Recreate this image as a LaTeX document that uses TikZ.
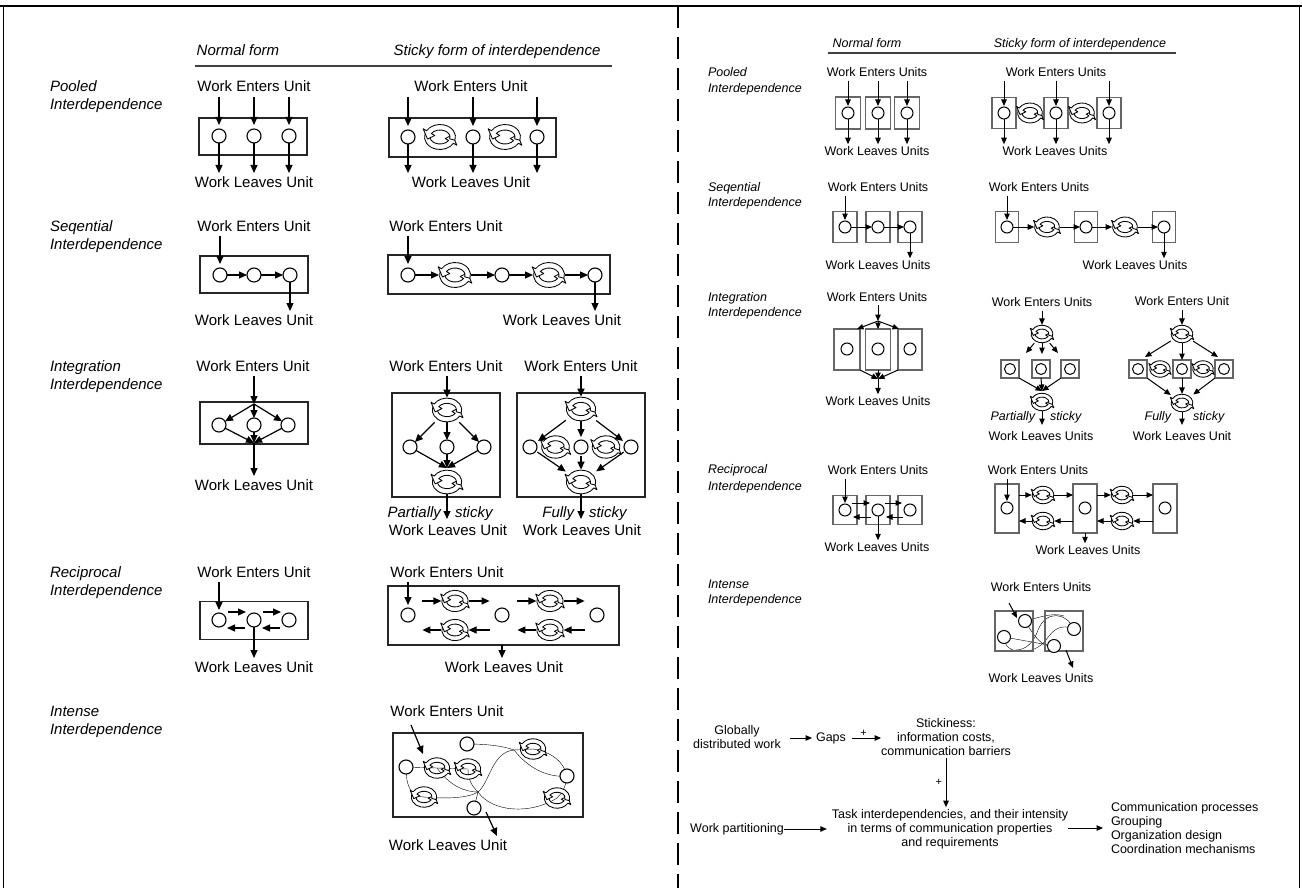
\documentclass[tikz,border=0pt]{standalone}
\usepackage{fontspec}
\setmainfont{Liberation Sans}
\usetikzlibrary{arrows.meta,backgrounds}

% circulating "sticky" symbol: two hollow curved arrows
\tikzset{
  stick/.pic={
    \foreach \r in {0,180}{
      \filldraw[fill=white, draw=black, line width=0.85pt, line join=round, rotate=\r]
        (195:15.5 and 12.5) arc[start angle=195, end angle=30, x radius=15.5, y radius=12.5]
        -- (30:19.5 and 16.5) -- (-12:12.75 and 9.75) -- (30:6 and 3) -- (30:10 and 7)
        arc[start angle=30, end angle=195, x radius=10, y radius=7]
        -- cycle;
    }
  }
}
% named anchor node carrying a sticky symbol: name, x, y, scale
\newcommand\stickyat[4]{%
  \node[minimum width=#4*32pt, minimum height=#4*26pt] (#1) at (#2,#3) {};
  \pic[scale=#4] at (#1) {stick};}

\begin{document}
\begin{tikzpicture}[x=1pt, y=-1pt,
  every node/.style={inner sep=0pt, outer sep=0pt},
  lt/.style={font=\fontsize{15}{17}\selectfont, text height=11pt, text depth=3pt},
  lit/.style={font=\fontsize{15}{17}\selectfont\itshape, text height=11pt, text depth=3pt},
  lrow/.style={lit, anchor=west},
  rt/.style={font=\fontsize{12.5}{14}\selectfont, text height=9pt, text depth=2.5pt},
  rit/.style={font=\fontsize{12.5}{14}\selectfont\itshape, text height=9pt, text depth=2.5pt},
  rrow/.style={rit, anchor=west},
  flow/.style={font=\fontsize{12.5}{14}\selectfont, align=center},
  la/.style={line width=1.2pt, -{Triangle[length=8pt,width=7pt]}},
  ra/.style={line width=1pt, -{Triangle[length=6.5pt,width=5.5pt]}},
  lc/.style={circle, draw, line width=1.1pt, minimum size=14pt, fill=white},
  rc/.style={circle, draw, line width=1pt, minimum size=12pt, fill=white},
  lbox/.style={draw=black!85, line width=1.3pt},
  rbox/.style={draw=black!60, line width=1.6pt},
  lline/.style={line width=1.2pt},
  rline/.style={line width=1pt},
]

\begin{scope}[on background layer]
  \fill[white] (0,0) rectangle (1302,888);
\end{scope}
\useasboundingbox (0,0) rectangle (1302,888);

% ---------- page frame and divider ----------
\draw[line width=2.5pt] (0,6) -- (1302,6);
\draw[line width=1pt] (3,6) -- (3,888);
\draw[line width=1pt] (1299,6) -- (1299,888);
\draw[line width=2.6pt, dash pattern=on 22pt off 9pt] (678,6) -- (678,888);

% ================= LEFT PANEL =================
\node[lit] (lhN) at (238,52) {Normal form};
\node[lit] (lhS) at (497,52) {Sticky form of interdependence};
\coordinate (lr1) at (195,66); \coordinate (lr2) at (612,66);
\draw[line width=1.3pt, black!75] (lr1) -- (lr2);

\node[lrow] (lrPa) at (50,88) {Pooled};
\node[lrow] (lrPb) at (50,106) {Interdependence};
\node[lrow] (lrSa) at (50,227) {Seqential};
\node[lrow] (lrSb) at (50,245) {Interdependence};
\node[lrow] (lrIa) at (50,367) {Integration};
\node[lrow] (lrIb) at (50,385) {Interdependence};
\node[lrow] (lrRa) at (50,573) {Reciprocal};
\node[lrow] (lrRb) at (50,591) {Interdependence};
\node[lrow] (lrXa) at (50,712) {Intense};
\node[lrow] (lrXb) at (50,730) {Interdependence};

% --- pooled, normal ---
\node[lt] (lpn-in) at (254,88) {Work Enters Unit};
\node[lbox, minimum width=108, minimum height=37] (lpn-box) at (253,136.5) {};
\node[lc] (lpn1) at (219,136) {};
\node[lc] (lpn2) at (254,136) {};
\node[lc] (lpn3) at (289,136) {};
\node[lt] (lpn-out) at (254,183) {Work Leaves Unit};
\foreach \c in {lpn1,lpn2,lpn3}{
  \draw[la, shorten <=2pt, shorten >=4pt] (lpn-in.south -| \c) -- (\c);
  \draw[la, shorten >=3pt] (\c) -- (\c |- lpn-out.north);
}

% --- pooled, sticky ---
\node[lt] (lps-in) at (471,88) {Work Enters Unit};
\node[lbox, minimum width=167, minimum height=39] (lps-box) at (472.5,137.5) {};
\node[lc] (lps1) at (408,137) {};
\node[lc] (lps2) at (473,137) {};
\node[lc] (lps3) at (537,137) {};
\stickyat{lpsA}{440}{137}{1}
\stickyat{lpsB}{505}{137}{1}
\node[lt] (lps-out) at (471,183) {Work Leaves Unit};
\foreach \c in {lps1,lps2,lps3}{
  \draw[la, shorten <=2pt, shorten >=4pt] (lps-in.south -| \c) -- (\c);
  \draw[la, shorten >=3pt] (\c) -- (\c |- lps-out.north);
}

% --- sequential, normal ---
\node[lt] (lsn-in) at (254,227) {Work Enters Unit};
\node[lbox, minimum width=108, minimum height=37] (lsn-box) at (254,274.5) {};
\node[lc] (lsn1) at (220,275) {};
\node[lc] (lsn2) at (254,275) {};
\node[lc] (lsn3) at (290,275) {};
\node[lt] (lsn-out) at (254,321) {Work Leaves Unit};
\draw[la, shorten <=2pt, shorten >=4pt] (lsn-in.south -| lsn1) -- (lsn1);
\draw[la] (lsn1) -- (lsn2);
\draw[la] (lsn2) -- (lsn3);
\draw[la, shorten >=3pt] (lsn3) -- (lsn3 |- lsn-out.north);

% --- sequential, sticky ---
\node[lt] (lss-in) at (446,227) {Work Enters Unit};
\node[lbox, minimum width=222, minimum height=39] (lss-box) at (499,274.5) {};
\node[lc] (lss1) at (408,275) {};
\node[lc] (lss2) at (502,275) {};
\node[lc] (lss3) at (595,275) {};
\stickyat{lssA}{455}{275}{1}
\stickyat{lssB}{549}{275}{1}
\node[lt] (lss-out) at (562,321) {Work Leaves Unit};
\draw[la, shorten <=2pt, shorten >=4pt] (lss-in.south -| lss1) -- (lss1);
\draw[la] (lss1) -- (lssA);
\draw[la] (lssA) -- (lss2);
\draw[la] (lss2) -- (lssB);
\draw[la] (lssB) -- (lss3);
\draw[la, shorten >=3pt] (lss3) -- (lss3 |- lss-out.north);

% --- integration, normal ---
\node[lt] (lin-in) at (253,367) {Work Enters Unit};
\node[lbox, minimum width=108, minimum height=42] (lin-box) at (254,423) {};
\node[lc] (lin1) at (219,425) {};
\node[lc] (lin2) at (254,425) {};
\node[lc] (lin3) at (288,425) {};
\coordinate (linj) at (254,404);
\coordinate (linc) at (254,443);
\node[lt] (lin-out) at (254,486) {Work Leaves Unit};
\draw[la, shorten <=2pt] (lin-in.south -| linj) -- (linj);
\foreach \c in {lin1,lin2,lin3}{
  \draw[la] (linj) -- (\c);
  \draw[la] (\c) -- (linc);
}
\draw[la, shorten >=3pt] (linc) -- (linc |- lin-out.north);

% --- integration, partially sticky ---
\node[lt] (lip-in) at (446,367) {Work Enters Unit};
\node[lbox, minimum width=108, minimum height=104] (lip-box) at (446,445) {};
\stickyat{lipT}{447}{410}{0.95}
\node[lc] (lip1) at (410,447) {};
\node[lc] (lip2) at (447,447) {};
\node[lc] (lip3) at (484,447) {};
\coordinate (lipc) at (447,468);
\stickyat{lipB}{447}{482}{0.95}
\coordinate (lipx) at (447,519);
\node[lit, anchor=east] (lipP) at (441,513) {Partially};
\node[lit, anchor=west] (lipS) at (455,513) {sticky};
\node[lt] (lip-out) at (448,531) {Work Leaves Unit};
\draw[la, shorten <=2pt] (lip-in.south -| lipT) -- (lipT);
\foreach \c in {lip1,lip2,lip3}{
  \draw[la] (lipT) -- (\c);
  \draw[la] (\c) -- (lipc);
}
\draw[la] (lipB) -- (lipx);

% --- integration, fully sticky ---
\node[lt] (lif-in) at (581,367) {Work Enters Unit};
\node[lbox, minimum width=128, minimum height=104] (lif-box) at (581,445) {};
\stickyat{lifT}{581}{409}{0.95}
\node[lc] (lif1) at (530,447) {};
\node[lc] (lif2) at (581,447) {};
\node[lc] (lif3) at (631,447) {};
\stickyat{lifA}{555.5}{447}{0.9}
\stickyat{lifB}{606}{447}{0.9}
\stickyat{lifD}{581}{482}{0.95}
\coordinate (lifx) at (581,519);
\node[lit, anchor=east] (lifP) at (574,513) {Fully};
\node[lit, anchor=west] (lifS) at (589,513) {sticky};
\node[lt] (lif-out) at (582,531) {Work Leaves Unit};
\draw[la, shorten <=2pt] (lif-in.south -| lifT) -- (lifT);
\foreach \c in {lif1,lif2,lif3}{
  \draw[la, shorten >=3pt] (lifT) -- (\c);
  \draw[la, shorten <=2pt] (\c) -- (lifD);
}
\draw[la] (lifD) -- (lifx);

% --- reciprocal, normal ---
\node[lt] (lrn-in) at (254,573) {Work Enters Unit};
\node[lbox, minimum width=108, minimum height=38] (lrn-box) at (254,620.5) {};
\node[lc] (lrn1) at (219,620) {};
\node[lc] (lrn2) at (254,620) {};
\node[lc] (lrn3) at (289,620) {};
\node[lt] (lrn-out) at (254,668) {Work Leaves Unit};
\draw[la, shorten <=2pt, shorten >=3pt] (lrn-in.south -| lrn1) -- (lrn1);
\draw[la] ([shift={(9,-8)}]lrn1.center) -- ([shift={(-8,-8)}]lrn2.center);
\draw[la] ([shift={(9,-8)}]lrn2.center) -- ([shift={(-8,-8)}]lrn3.center);
\draw[la] ([shift={(-9,8)}]lrn2.center) -- ([shift={(8,8)}]lrn1.center);
\draw[la] ([shift={(-9,8)}]lrn3.center) -- ([shift={(8,8)}]lrn2.center);
\draw[la, shorten >=3pt] (lrn2) -- (lrn2 |- lrn-out.north);

% --- reciprocal, sticky ---
\node[lt] (lrs-in) at (447,573) {Work Enters Unit};
\node[lbox, minimum width=231, minimum height=59] (lrs-box) at (503.5,615.5) {};
\node[lc] (lrs1) at (408,615) {};
\node[lc] (lrs2) at (502,615) {};
\node[lc] (lrs3) at (597,615) {};
\stickyat{lrsU1}{455}{601}{0.85}
\stickyat{lrsU2}{550}{601}{0.85}
\stickyat{lrsL1}{455}{630}{0.85}
\stickyat{lrsL2}{550}{630}{0.85}
\node[lt] (lrs-out) at (504,668) {Work Leaves Unit};
\draw[la, shorten <=2pt, shorten >=3pt] (lrs-in.south -| lrs1) -- (lrs1);
\foreach \u in {lrsU1,lrsU2}{
  \draw[la] ([xshift=-19pt]\u.west) -- (\u.west);
  \draw[la] (\u.east) -- ([xshift=21pt]\u.east);
}
\foreach \u in {lrsL1,lrsL2}{
  \draw[la] ([xshift=21pt]\u.east) -- (\u.east);
  \draw[la] (\u.west) -- ([xshift=-19pt]\u.west);
}
\draw[la, shorten >=3pt] (lrs-box.south -| lrs2) -- (lrs2 |- lrs-out.north);

% --- intense, sticky ---
\node[lt] (lx-in) at (447,712) {Work Enters Unit};
\node[lbox, minimum width=190, minimum height=84] (lx-box) at (488,775) {};
\stickyat{lxA}{437}{768}{0.82}
\stickyat{lxB}{468}{769}{0.82}
\stickyat{lxC}{424}{797}{0.82}
\stickyat{lxD}{533}{749}{0.82}
\stickyat{lxE}{557}{798}{0.82}
\node[lc] (lx1) at (406,767) {};
\node[lc] (lx2) at (467,744) {};
\node[lc] (lx3) at (567,776) {};
\node[lc] (lx4) at (474,808) {};
\coordinate (lxX) at (478,792);
\coordinate (lxJ) at (514,750);
\begin{scope}[on background layer, lline]
  \draw (lx1.center) -- (lxB.center);
  \draw (lx1.center) .. controls (406,788) and (412,797) .. (lxC.center);
  \draw (lxC.center) .. controls (448,799) and (468,798) .. (lxX)
        .. controls (490,782) and (492,752) .. (lxJ);
  \draw (lx2.center) .. controls (488,744) and (503,746) .. (lxJ) -- (lxD.center);
  \draw (lxJ) .. controls (528,768) and (548,778) .. (lx3.center);
  \draw (lxD.center) .. controls (552,752) and (564,762) .. (lx3.center);
  \draw (lx3.center) .. controls (566,787) and (562,793) .. (lxE.center);
  \draw (lxE.center) .. controls (530,815) and (492,812) .. (lxX)
        .. controls (470,784) and (468,778) .. (lxB.center);
  \draw (lxX) -- (lx4.center);
  \draw (lxA.center) .. controls (450,786) and (465,792) .. (lxX);
\end{scope}
\coordinate (lxe1) at (411,725); \coordinate (lxe2) at (423,754);
\coordinate (lxo1) at (486,812); \coordinate (lxo2) at (497,836);
\draw[la] (lxe1) -- (lxe2);
\draw[la] (lxo1) -- (lxo2);
\node[lt] (lx-out) at (448,846) {Work Leaves Unit};

% ================= RIGHT PANEL =================
\node[rit] (rhN) at (867,44) {Normal form};
\node[rit] (rhS) at (1080,44) {Sticky form of interdependence};
\coordinate (rr1) at (828,53); \coordinate (rr2) at (1176,53);
\draw[line width=1.1pt, black!75] (rr1) -- (rr2);

\node[rrow] (rrPa) at (708,73) {Pooled};
\node[rrow] (rrPb) at (708,89) {Interdependence};
\node[rrow] (rrSa) at (708,188) {Seqential};
\node[rrow] (rrSb) at (708,203) {Interdependence};
\node[rrow] (rrIa) at (708,298) {Integration};
\node[rrow] (rrIb) at (708,313) {Interdependence};
\node[rrow] (rrRa) at (708,470) {Reciprocal};
\node[rrow] (rrRb) at (708,487) {Interdependence};
\node[rrow] (rrXa) at (708,585) {Intense};
\node[rrow] (rrXb) at (708,600) {Interdependence};

% --- pooled, normal ---
\node[rt] (rpn-in) at (877,73) {Work Enters Units};
\foreach \i/\x in {1/848,2/878,3/907}{
  \node[rbox, minimum width=25, minimum height=32] (rpnb\i) at (\x,113) {};
  \node[rc] (rpn\i) at (\x,113) {};
}
\node[rt] (rpn-out) at (877,152) {Work Leaves Units};
\foreach \c in {rpn1,rpn2,rpn3}{
  \draw[ra, shorten <=2pt, shorten >=1pt] (rpn-in.south -| \c) -- (\c);
  \draw[ra, shorten >=2pt] (\c) -- (\c |- rpn-out.north);
}

% --- pooled, sticky ---
\node[rt] (rps-in) at (1056,73) {Work Enters Units};
\foreach \i/\x in {1/1004,2/1056,3/1109}{
  \node[rbox, minimum width=24, minimum height=31] (rpsb\i) at (\x,113) {};
  \node[rc] (rps\i) at (\x,113) {};
}
\stickyat{rpsA}{1030}{113}{0.8}
\stickyat{rpsB}{1082}{113}{0.8}
\node[rt] (rps-out) at (1055,152) {Work Leaves Units};
\foreach \c in {rps1,rps2,rps3}{
  \draw[ra, shorten <=2pt, shorten >=1pt] (rps-in.south -| \c) -- (\c);
  \draw[ra, shorten >=2pt] (\c) -- (\c |- rps-out.north);
}

% --- sequential, normal ---
\node[rt] (rsn-in) at (878,188) {Work Enters Units};
\foreach \i/\x in {1/845,2/878,3/910}{
  \node[rbox, minimum width=24, minimum height=31] (rsnb\i) at (\x,227) {};
  \node[rc] (rsn\i) at (\x,227) {};
}
\node[rt] (rsn-out) at (878,266) {Work Leaves Units};
\draw[ra, shorten <=2pt, shorten >=1pt] (rsn-in.south -| rsn1) -- (rsn1);
\draw[ra] (rsn1) -- (rsn2);
\draw[ra] (rsn2) -- (rsn3);
\draw[ra, shorten >=2pt] (rsn3) -- (rsn3 |- rsn-out.north);

% --- sequential, sticky ---
\node[rt] (rss-in) at (1039,188) {Work Enters Units};
\foreach \i/\x in {1/1007,2/1086,3/1164}{
  \node[rbox, minimum width=23, minimum height=31] (rssb\i) at (\x,227) {};
  \node[rc] (rss\i) at (\x,227) {};
}
\stickyat{rssA}{1047}{227}{0.8}
\stickyat{rssB}{1125}{227}{0.8}
\node[rt] (rss-out) at (1135,266) {Work Leaves Units};
\draw[ra, shorten <=2pt, shorten >=1pt] (rss-in.south -| rss1) -- (rss1);
\draw[ra] (rss1) -- (rssA);
\draw[ra] (rssA) -- (rss2);
\draw[ra] (rss2) -- (rssB);
\draw[ra] (rssB) -- (rss3);
\draw[ra, shorten >=2pt] (rss3) -- (rss3 |- rss-out.north);

% --- integration, normal ---
\node[rt] (rin-in) at (877,298) {Work Enters Units};
\node[rbox, minimum width=26, minimum height=41] (rinb1) at (847,349.5) {};
\node[rbox, minimum width=25, minimum height=41] (rinb2) at (878,349.5) {};
\node[rbox, minimum width=24, minimum height=41] (rinb3) at (910,349.5) {};
\node[rc] (rin1) at (847,349) {};
\node[rc] (rin2) at (878,349) {};
\node[rc] (rin3) at (910,349) {};
\coordinate (rinj) at (878,321);
\coordinate (rinf1) at (857,329);
\coordinate (rinf2) at (878,329);
\coordinate (rinf3) at (899,329);
\coordinate (rinc) at (878,379);
\node[rt] (rin-out) at (878,402) {Work Leaves Units};
\draw[ra, shorten <=1pt] (rin-in.south -| rinj) -- (rinj);
\draw[ra] (rinj) -- (rinf1);
\draw[ra] (rinj) -- (rinf2);
\draw[ra] (rinj) -- (rinf3);
\draw[ra] (rinb1.south east) -- (rinc);
\draw[ra] (rinb2.south) -- (rinc);
\draw[ra] (rinb3.south west) -- (rinc);
\draw[ra, shorten >=2pt] (rinc) -- (rinc |- rin-out.north);

% --- integration, partially sticky ---
\node[rt] (rip-in) at (1042,303) {Work Enters Units};
\stickyat{ripT}{1042}{334}{0.7}
\foreach \i/\x in {1/1010,2/1041,3/1070}{
  \node[rbox, minimum width=18, minimum height=18] (ripb\i) at (\x,369) {};
  \node[rc, minimum size=11pt] (rip\i) at (\x,369) {};
}
\coordinate (ripf1) at (1026,353);
\coordinate (ripf2) at (1042,354);
\coordinate (ripf3) at (1058,353);
\coordinate (ripc) at (1042,391);
\stickyat{ripB}{1042}{402}{0.7}
\coordinate (ripx) at (1042,425);
\node[rit, anchor=east] (ripP) at (1035,417) {Partially};
\node[rit, anchor=west] (ripS) at (1050,417) {sticky};
\node[rt] (rip-out) at (1041,437) {Work Leaves Units};
\draw[ra, shorten <=2pt] (rip-in.south -| ripT) -- (ripT);
\draw[ra] (ripT) -- (ripf1);
\draw[ra] (ripT) -- (ripf2);
\draw[ra] (ripT) -- (ripf3);
\draw[ra] (ripb1.south east) -- (ripc);
\draw[ra] (ripb2.south) -- (ripc);
\draw[ra] (ripb3.south west) -- (ripc);
\draw[ra] (ripB) -- (ripx);

% --- integration, fully sticky ---
\node[rt] (rif-in) at (1182,302) {Work Enters Unit};
\stickyat{rifT}{1182}{334}{0.7}
\foreach \i/\x in {1/1138,2/1182,3/1224}{
  \node[rbox, minimum width=18, minimum height=18] (rifb\i) at (\x,369) {};
  \node[rc, minimum size=11pt] (rif\i) at (\x,369) {};
}
\stickyat{rifA}{1160}{369}{0.66}
\stickyat{rifB}{1203}{369}{0.66}
\coordinate (riff1) at (1145,357);
\coordinate (riff3) at (1218,357);
\stickyat{rifD}{1182}{403}{0.7}
\coordinate (rifx) at (1182,425);
\node[rit, anchor=east] (rifP) at (1171,417) {Fully};
\node[rit, anchor=west] (rifS) at (1193,417) {sticky};
\node[rt] (rif-out) at (1182,437) {Work Leaves Unit};
\draw[ra, shorten <=2pt] (rif-in.south -| rifT) -- (rifT);
\draw[ra] (rifT) -- (riff1);
\draw[ra] (rifT) -- (rifb2);
\draw[ra] (rifT) -- (riff3);
\draw[ra] (rifb1.south east) -- (rifD);
\draw[ra] (rifb2) -- (rifD);
\draw[ra] (rifb3.south west) -- (rifD);
\draw[ra] (rifD) -- (rifx);

% --- reciprocal, normal ---
\node[rt] (rrn-in) at (878,471) {Work Enters Units};
\foreach \i/\x in {1/845,2/878,3/910}{
  \node[rbox, minimum width=24, minimum height=29] (rrnb\i) at (\x,510) {};
  \node[rc] (rrn\i) at (\x,510) {};
}
\node[rt] (rrn-out) at (877,548) {Work Leaves Units};
\draw[ra, shorten <=2pt, shorten >=1pt] (rrn-in.south -| rrn1) -- (rrn1);
\draw[ra] ([shift={(7,-7)}]rrn1.center) -- ([shift={(-8,-7)}]rrn2.center);
\draw[ra] ([shift={(7,-7)}]rrn2.center) -- ([shift={(-8,-7)}]rrn3.center);
\draw[ra] ([shift={(-7,7)}]rrn2.center) -- ([shift={(8,7)}]rrn1.center);
\draw[ra] ([shift={(-7,7)}]rrn3.center) -- ([shift={(8,7)}]rrn2.center);
\draw[ra, shorten >=2pt] (rrn2) -- (rrn2 |- rrn-out.north);

% --- reciprocal, sticky ---
\node[rt] (rrs-in) at (1038,471) {Work Enters Units};
\foreach \i/\x in {1/1007,2/1085,3/1165}{
  \node[rbox, minimum width=24, minimum height=49] (rrsb\i) at (\x,508.5) {};
  \node[rc] (rrs\i) at (\x,508) {};
}
\stickyat{rrsU1}{1043}{495}{0.7}
\stickyat{rrsU2}{1122}{495}{0.7}
\stickyat{rrsL1}{1043}{521}{0.7}
\stickyat{rrsL2}{1122}{521}{0.7}
\node[rt] (rrs-out) at (1088,551) {Work Leaves Units};
\draw[ra, shorten <=2pt, shorten >=1pt] (rrs-in.south -| rrs1) -- (rrs1);
\draw[ra] (rrsb1.east |- rrsU1) -- (rrsU1.west);
\draw[ra] (rrsU1.east) -- (rrsb2.west |- rrsU1);
\draw[ra] (rrsb2.east |- rrsU2) -- (rrsU2.west);
\draw[ra] (rrsU2.east) -- (rrsb3.west |- rrsU2);
\draw[ra] (rrsb2.west |- rrsL1) -- (rrsL1.east);
\draw[ra] (rrsL1.west) -- (rrsb1.east |- rrsL1);
\draw[ra] (rrsb3.west |- rrsL2) -- (rrsL2.east);
\draw[ra] (rrsL2.west) -- (rrsb2.east |- rrsL2);
\draw[ra, shorten >=2pt] (rrsb2.south) -- (rrsb2.south |- rrs-out.north);

% --- intense, sticky ---
\node[rt] (rx-in) at (1041,588) {Work Enters Units};
\node[rbox, minimum width=38, minimum height=40] (rxb1) at (1014,631) {};
\node[rbox, minimum width=38, minimum height=40] (rxb2) at (1064,631) {};
\node[rc, minimum size=13pt] (rx1) at (1025,621) {};
\node[rc, minimum size=13pt] (rx2) at (1004,637) {};
\node[rc, minimum size=13pt] (rx3) at (1074,629) {};
\node[rc, minimum size=13pt] (rx4) at (1054,646) {};
\begin{scope}[on background layer, rline]
  \draw (rx2.center) -- (rx4.center);
  \draw (rx2.center) .. controls (1004,656) and (1034,656) .. (1046,640)
        .. controls (1054,628) and (1062,624) .. (rx3.center);
  \draw (rx1.center) .. controls (1034,636) and (1042,648) .. (rx4.center);
  \draw (rx3.center) .. controls (1066,612) and (1046,610) .. (1038,630)
        .. controls (1034,642) and (1026,650) .. (1016,650);
  \draw (rx1.center) .. controls (1038,618) and (1052,612) .. (1064,616);
\end{scope}
\coordinate (rxe1) at (1009,603); \coordinate (rxe2) at (1017,618);
\coordinate (rxo1) at (1066,650); \coordinate (rxo2) at (1073,668);
\draw[ra] (rxe1) -- (rxe2);
\draw[ra] (rxo1) -- (rxo2);
\node[rt] (rx-out) at (1041,679) {Work Leaves Units};

% --- causal chain ---
\node[flow] (gw) at (737,737) {Globally\\distributed work};
\node[flow] (gaps) at (831,738) {Gaps};
\node[flow] (stk) at (946,737) {Stickiness:\\information costs,\\communication barriers};
\node[flow] (wp) at (737,829) {Work partitioning};
\node[flow] (task) at (950,829) {Task interdependencies, and their intensity\\in terms of communication properties\\and requirements};
\node[flow, align=left, anchor=west] (outs) at (1111,828) {Communication processes\\Grouping\\Organization design\\Coordination mechanisms};
\draw[ra, shorten <=9pt, shorten >=4pt] (gw.east |- gaps) -- (gaps.west);
\draw[ra, shorten <=6pt] (gaps.east) -- (gaps.east -| stk.west)
  node[midway, above=2pt, font=\fontsize{11}{12}\selectfont] {+};
\draw[ra, shorten <=2pt, shorten >=2pt] (stk.south) -- (stk.south |- task.north)
  node[midway, left=4pt, font=\fontsize{11}{12}\selectfont] {+};
\draw[ra, shorten >=5pt] (wp.east) -- (wp.east -| task.west);
\draw[ra, shorten >=8pt] (task.east |- outs.west) -- (outs.west);

\end{tikzpicture}
\end{document}
